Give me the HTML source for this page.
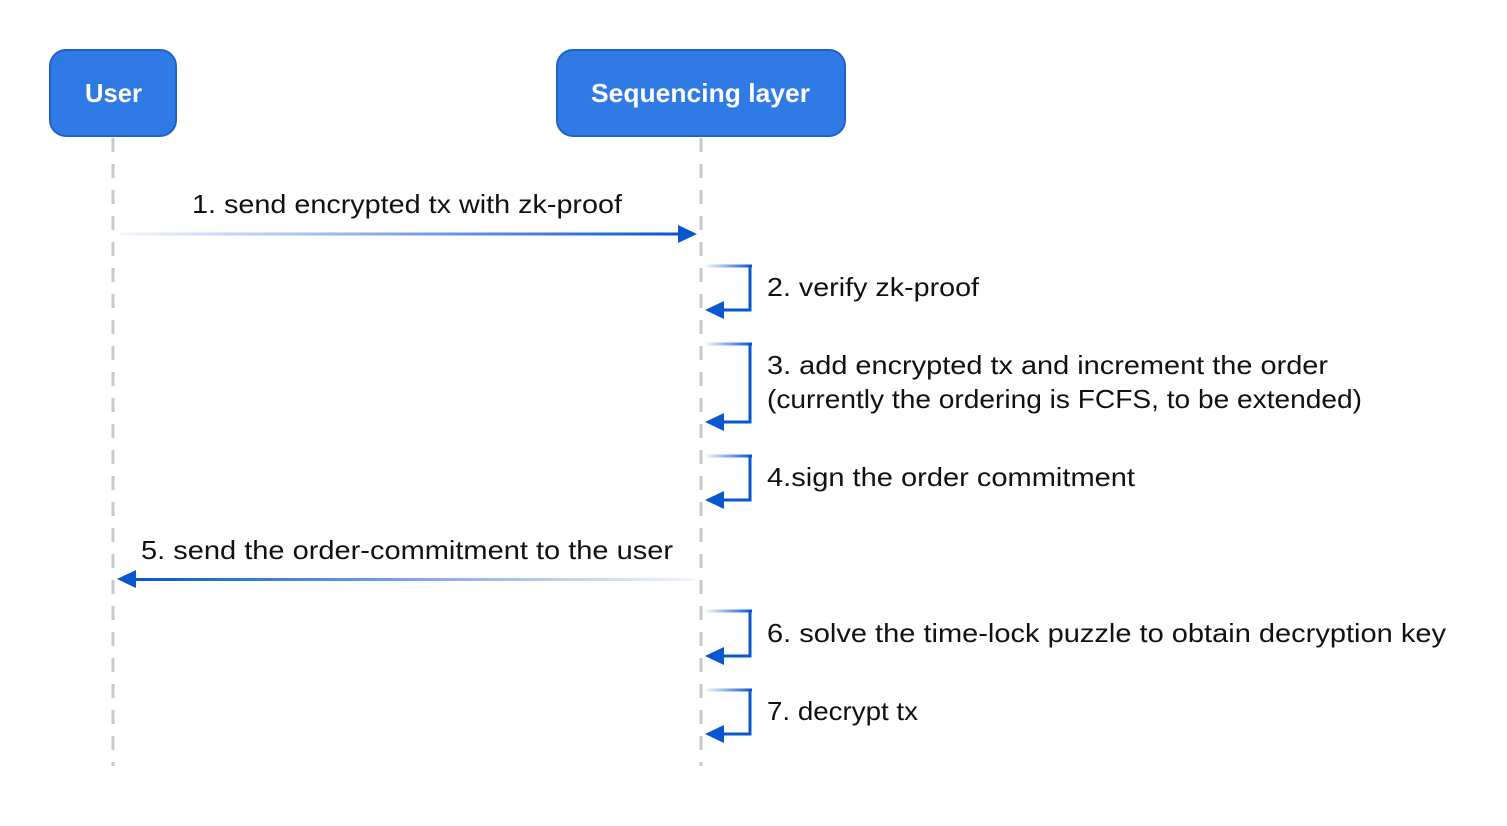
<!DOCTYPE html>
<html><head><meta charset="utf-8"><style>
html,body{margin:0;padding:0;background:#fff;}
svg{display:block;}
text{font-family:"Liberation Sans",sans-serif;fill:#111;}
</style></head><body>
<svg width="1507" height="826" viewBox="0 0 1507 826" xmlns="http://www.w3.org/2000/svg">
<defs>
<linearGradient id="gr" x1="0" x2="1" y1="0" y2="0"><stop offset="0" stop-color="#0a55d0" stop-opacity="0.05"/><stop offset="1" stop-color="#0a55d0"/></linearGradient>
<linearGradient id="gl" x1="1" x2="0" y1="0" y2="0"><stop offset="0" stop-color="#0a55d0" stop-opacity="0.05"/><stop offset="1" stop-color="#0a55d0"/></linearGradient>
</defs>
<g stroke="#c4c9d2" stroke-width="3" stroke-dasharray="14 12">
<line x1="113" y1="138" x2="113" y2="766"/>
<line x1="701" y1="138" x2="701" y2="766"/>
</g>
<rect x="50" y="50" width="126" height="86" rx="16" fill="#2f7ae5" stroke="#1f62c6" stroke-width="2"/>
<rect x="557" y="50" width="288" height="86" rx="16" fill="#2f7ae5" stroke="#1f62c6" stroke-width="2"/>
<text x="85" y="102" textLength="57" lengthAdjust="spacingAndGlyphs" style="font-weight:bold;font-size:26px;fill:#fff">User</text>
<text x="591" y="102" textLength="219" lengthAdjust="spacingAndGlyphs" style="font-weight:bold;font-size:26px;fill:#fff">Sequencing layer</text>

<rect x="120" y="232.5" width="560" height="3" fill="url(#gr)"/>
<polygon points="697,234 678,225 678,243" fill="#0a55d0"/>
<text x="192" y="213" textLength="430" lengthAdjust="spacingAndGlyphs" style="font-size:26px">1. send encrypted tx with zk-proof</text>

<rect x="134" y="578" width="561" height="3" fill="url(#gl)"/>
<polygon points="117,579 136,570 136,588" fill="#0a55d0"/>
<text x="141" y="559" textLength="532" lengthAdjust="spacingAndGlyphs" style="font-size:26px">5. send the order-commitment to the user</text>

<g fill="url(#gr)">
<rect x="706" y="264.5" width="46" height="3"/>
<rect x="706" y="342.5" width="46" height="3"/>
<rect x="706" y="454.5" width="46" height="3"/>
<rect x="706" y="609.5" width="46" height="3"/>
<rect x="706" y="688.5" width="46" height="3"/>
</g>
<g fill="none" stroke-width="3" stroke="#0a55d0">
<polyline points="750,265 750,310 722,310"/>
<polyline points="750,343 750,422 722,422"/>
<polyline points="750,455 750,500 722,500"/>
<polyline points="750,610 750,656 722,656"/>
<polyline points="750,689 750,734 722,734"/>
</g>
<g fill="#0a55d0">
<polygon points="705,310 724,301 724,319"/>
<polygon points="705,422 724,413 724,431"/>
<polygon points="705,500 724,491 724,509"/>
<polygon points="705,656 724,647 724,665"/>
<polygon points="705,734 724,725 724,743"/>
</g>
<g style="font-size:26px">
<text x="767" y="296" textLength="212" lengthAdjust="spacingAndGlyphs">2. verify zk-proof</text>
<text x="767" y="374" textLength="561" lengthAdjust="spacingAndGlyphs">3. add encrypted tx and increment the order</text>
<text x="767" y="408" textLength="595" lengthAdjust="spacingAndGlyphs">(currently the ordering is FCFS, to be extended)</text>
<text x="767" y="486" textLength="368" lengthAdjust="spacingAndGlyphs">4.sign the order commitment</text>
<text x="767" y="642" textLength="679" lengthAdjust="spacingAndGlyphs">6. solve the time-lock puzzle to obtain decryption key</text>
<text x="767" y="720" textLength="151" lengthAdjust="spacingAndGlyphs">7. decrypt tx</text>
</g>
</svg>
</body></html>
